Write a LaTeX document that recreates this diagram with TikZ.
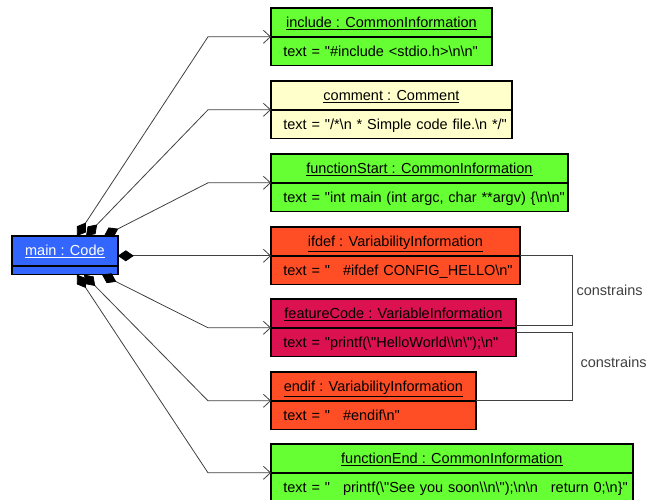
\documentclass[tikz,border=0pt]{standalone}
\usepackage{fontspec}
\newfontfamily\uifont{Liberation Sans}
\usetikzlibrary{arrows.meta,calc}
\definecolor{cCommon}{RGB}{102,255,51}
\definecolor{cComment}{RGB}{255,255,204}
\definecolor{cVarInfo}{RGB}{255,77,38}
\definecolor{cVarCode}{RGB}{220,18,80}
\definecolor{cCode}{RGB}{51,102,255}
\definecolor{cLine}{RGB}{64,64,64}
\newcommand{\bs}{\textbackslash}
\newcommand{\tabgap}{\hspace{13pt}}

\begin{document}
\begin{tikzpicture}[x=1pt,y=-1pt,font=\uifont\fontsize{14.5}{17}\selectfont,
  head/.style={anchor=north west,minimum height=28pt,inner sep=0pt,text height=12pt,text depth=2pt,draw=black,line width=0.8pt},
  body/.style={anchor=north west,minimum height=28pt,inner xsep=12pt,inner ysep=0pt,text height=12pt,text depth=2pt,align=left,draw=black,line width=0.8pt},
  frame/.style={draw=black,line width=1.6pt},
  comp/.style={cLine,line width=0.8pt,{Diamond[length=16pt,width=11pt,black]}-{Straight Barb[length=7pt,width=13pt]}},
  constr/.style={cLine,line width=0.8pt}]
\useasboundingbox (0,0) rectangle (653,500);
\node[head,fill=cCode,text=white,minimum width=105pt,minimum height=29pt] (main) at (12,236) {\underline{main : Code}};
\node[anchor=north west,fill=cCode,draw=black,line width=0.8pt,minimum width=105pt,minimum height=8pt,inner sep=0pt] (main-v) at (main.south west) {};
\node[head,fill=cCommon,minimum width=220pt] (include) at (271,8) {\underline{include : CommonInformation}};
\node[body,fill=cCommon,text width=196pt] (include-v) at (include.south west) {\mbox{text = "\#include <stdio.h>\bs n\bs n"}};
\node[head,fill=cComment,minimum width=240pt] (comment) at (271,81) {\underline{comment : Comment}};
\node[body,fill=cComment,text width=216pt] (comment-v) at (comment.south west) {\mbox{text = "/*\bs n * Simple code file.\bs n */"}};
\node[head,fill=cCommon,minimum width=296pt] (functionStart) at (271,154) {\underline{functionStart : CommonInformation}};
\node[body,fill=cCommon,text width=272pt] (functionStart-v) at (functionStart.south west) {\mbox{text = "int main (int argc, char **argv) \{\bs n\bs n"}};
\node[head,fill=cVarInfo,minimum width=248pt] (ifdef) at (271,227) {\underline{ifdef : VariabilityInformation}};
\node[body,fill=cVarInfo,text width=224pt] (ifdef-v) at (ifdef.south west) {\mbox{text = "\tabgap\#ifdef CONFIG\_HELLO\bs n"}};
\node[head,fill=cVarCode,minimum width=244pt] (featureCode) at (271,299) {\underline{featureCode : VariableInformation}};
\node[body,fill=cVarCode,text width=220pt] (featureCode-v) at (featureCode.south west) {\mbox{text = "printf(\bs "HelloWorld\bs\bs n\bs ");\bs n"}};
\node[head,fill=cVarInfo,minimum width=204pt] (endif) at (271,372) {\underline{endif : VariabilityInformation}};
\node[body,fill=cVarInfo,text width=180pt] (endif-v) at (endif.south west) {\mbox{text = "\tabgap\#endif\bs n"}};
\node[head,fill=cCommon,minimum width=361pt] (functionEnd) at (271,444) {\underline{functionEnd : CommonInformation}};
\node[body,fill=cCommon,text width=337pt] (functionEnd-v) at (functionEnd.south west) {\mbox{text = "\tabgap printf(\bs "See you soon\bs\bs n\bs ");\bs n\bs n\tabgap return 0;\bs n\}"}};
\foreach \o in {main,include,comment,functionStart,ifdef,featureCode,endif,functionEnd}
  \draw[frame] (\o.north west) rectangle (\o-v.south east);
\draw[comp] ($(main.north west)+(65,0)$) -- ($(include.south west)+(-63,0)$) -- (include.south west);
\draw[comp] ($(main.north west)+(74,0)$) -- ($(comment.south west)+(-63,0)$) -- (comment.south west);
\draw[comp] ($(main.north west)+(92,0)$) -- ($(functionStart.south west)+(-63,0)$) -- (functionStart.south west);
\draw[comp] (main.east |- ifdef.south west) -- (ifdef.south west);
\draw[comp] ($(main-v.south west)+(90,0)$) -- ($(featureCode.south west)+(-63,0)$) -- (featureCode.south west);
\draw[comp] ($(main-v.south west)+(72,0)$) -- ($(endif.south west)+(-63,0)$) -- (endif.south west);
\draw[comp] ($(main-v.south west)+(65,0)$) -- ($(functionEnd.south west)+(-63,0)$) -- (functionEnd.south west);
\draw[constr] (ifdef.south east) -- ++(53,0) |- node[pos=0.25,right,text=cLine] {constrains} ($(featureCode.south east)+(0,-2)$);
\draw[constr] ($(featureCode.south east)+(0,5)$) -- ++(57,0) |- node[pos=0.22,right,xshift=4pt,text=cLine] {constrains} (endif.south east);
\end{tikzpicture}
\end{document}
